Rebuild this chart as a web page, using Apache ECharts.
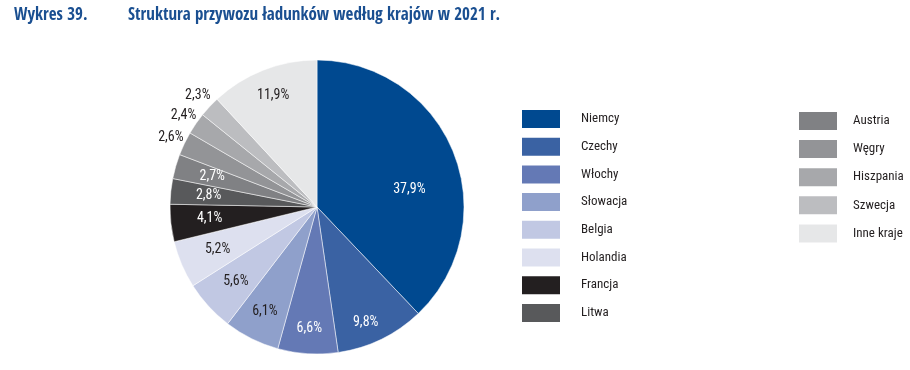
<!DOCTYPE html>
<html><head><meta charset="utf-8">
<script src="https://cdn.jsdelivr.net/npm/echarts@6/dist/echarts.min.js"></script>
<style>html,body{margin:0;padding:0;background:#fff}#c{width:910px;height:370px}</style>
</head><body><div id="c"></div>
<script>
const categories = ['Niemcy','Czechy','Włochy','Słowacja','Belgia','Holandia','Francja','Litwa','Austria','Węgry','Hiszpania','Szwecja','Inne kraje'];
const shares = [37.9, 9.8, 6.6, 6.1, 5.6, 5.2, 4.1, 2.8, 2.7, 2.6, 2.4, 2.3, 11.9];
const legendCol1 = ['Niemcy','Czechy','Włochy','Słowacja','Belgia','Holandia','Francja','Litwa'];
const legendCol2 = ['Austria','Węgry','Hiszpania','Szwecja','Inne kraje'];

const colors = ['#004990','#3a62a3','#6479b5','#8fa0cb','#c1c8e3','#dde0ef','#231f20','#58595b','#808184','#939497','#a7a8ab','#bcbdc0','#e6e7e8'];
const labelColors = ['#fff','#fff','#fff','#231f20','#231f20','#231f20','#fff','#fff','#fff','#231f20','#231f20','#231f20','#231f20'];
const labelRadius = [94,125,122,117,110,108,108,109,109,162,162,163,120];
const labelAngleShift = [11,3,0,0,0,0,0,0,0,0,0,0,0];
const CX = 317, CY = 207, R = 147;
const TFONT = '"Open Sans Condensed","Roboto Condensed",sans-serif';
const FONT = '"Roboto Condensed","Open Sans Condensed",sans-serif';

const chart = echarts.init(document.getElementById('c'), null, {renderer:'canvas'});
chart.setOption({
  animation:false,
  color: colors,
  title:[
    {text:'Wykres 39.', left:14, top:7, padding:0, textStyle:{fontFamily:TFONT, fontWeight:'bold', fontSize:17, color:'#1a4f91'}},
    {text:'Struktura przywozu ładunków według krajów w 2021 r.', left:128, top:7, padding:0, textStyle:{fontFamily:TFONT, fontWeight:'bold', fontSize:17, color:'#1a4f91'}}
  ],
  legend:[
    {data:legendCol1, orient:'vertical', left:520, top:108, itemWidth:40, itemHeight:20, itemGap:5.7, icon:'rect',
     selectedMode:false, padding:0, textStyle:{fontFamily:FONT, fontSize:13, color:'#231f20', padding:[0,0,0,15]}},
    {data:legendCol2, orient:'vertical', left:797, top:110, itemWidth:40, itemHeight:20, itemGap:6.1, icon:'rect',
     selectedMode:false, padding:0, textStyle:{fontFamily:FONT, fontSize:13, color:'#231f20', padding:[0,0,0,10]}}
  ],
  series:[{
    type:'pie',
    center:[CX, CY],
    radius:[0, R],
    startAngle:90,
    clockwise:true,
    avoidLabelOverlap:false,
    itemStyle:{borderColor:'#ffffff', borderWidth:0.5},
    label:{show:true, position:'inside', fontFamily:FONT, fontSize:14,
      formatter:function(p){return p.value.toFixed(1).replace('.',',')+'%';},
      color:'#fff'},
    labelLine:{show:false},
    labelLayout:function(p){
      const lr = p.labelRect;
      const x = lr.x + lr.width/2, y = lr.y + lr.height/2;
      let a = Math.atan2(y-CY, x-CX) + labelAngleShift[p.dataIndex]*Math.PI/180;
      const r = labelRadius[p.dataIndex];
      return {x: CX + r*Math.cos(a), y: CY + r*Math.sin(a), align:'center', verticalAlign:'middle'};
    },
    data: categories.map((n,i)=>({name:n, value:shares[i], label:{color:labelColors[i]}}))
  }]
});
</script></body></html>
